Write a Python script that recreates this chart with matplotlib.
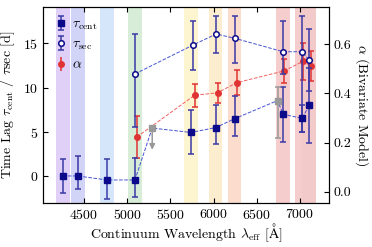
import matplotlib
matplotlib.use("Agg")
import matplotlib.pyplot as plt
import numpy as np

plt.rcParams['font.family'] = 'serif'
plt.rcParams['font.serif'] = ['cmr10']
plt.rcParams['mathtext.fontset'] = 'cm'
plt.rcParams['axes.formatter.use_mathtext'] = True
plt.rcParams['font.size'] = 10

# tau_cent (gray entries are flagged points, still on the dashed line)
lam_cent = [4253, 4427, 4766, 5090, 5290, 5738, 6024, 6244, 6742, 6807, 7027, 7108]
tau_cent = [0.05, 0.05, -0.4, -0.4, 5.45, 4.95, 5.5, 6.5, 8.55, 7.0, 6.55, 8.0]
cent_lo = [1.9, 1.5, 2.1, 1.95, 0.0, 2.4, 1.9, 2.0, 4.25, 3.1, 1.5, 4.2]
cent_hi = [1.9, 2.3, 2.4, 2.5, 0.0, 2.55, 2.6, 2.6, 1.55, 3.1, 1.5, 4.2]
gray_idx = [4, 8]
uplim_idx = 4
uplim_to = 3.0

lam_sec = [5090, 5762, 6031, 6251, 6807, 7027, 7108]
tau_sec = [11.55, 14.8, 16.05, 15.55, 14.05, 14.05, 13.1]
sec_lo = [6.0, 2.8, 2.1, 2.8, 2.5, 9.0, 3.5]
sec_hi = [4.5, 2.75, 2.05, 2.5, 3.5, 4.0, 3.5]

lam_alpha = [5110, 5781, 6047, 6267, 6818, 7038, 7124]
alpha = [0.222, 0.392, 0.402, 0.443, 0.491, 0.530, 0.511]
alpha_err = [0.085, 0.046, 0.041, 0.05, 0.05, 0.074, 0.06]

band_lam = [4253, 4427, 4766, 5090, 5738, 6024, 6244, 6807, 7027, 7108]
band_col = ['#e0d0f8', '#d2d4f7', '#d5e6fb', '#d8edd8', '#fdf4d0', '#fdedcf',
            '#fcdccc', '#f5cdcd', '#f5cdcd', '#f2caca']
band_half = 80

fig = plt.figure(figsize=(3.72, 2.47), dpi=100)
ax = fig.add_axes([0.1156, 0.178, 0.7684, 0.794])
ax2 = ax.twinx()
ax.set_zorder(ax2.get_zorder() + 1)
ax.patch.set_visible(False)

for lc, c in zip(band_lam, band_col):
    ax2.axvspan(lc - band_half, lc + band_half, color=c, lw=0, zorder=0)

navy = '#0a0a8a'
ebc = '#3a3aa6'
red = '#e03333'

lam_cent = np.array(lam_cent)
tau_cent = np.array(tau_cent)
cent_err = np.array([cent_lo, cent_hi])
good = np.array([i not in gray_idx for i in range(len(lam_cent))])

ax.plot(lam_cent, tau_cent, '--', color='#3040d0', lw=0.7, alpha=0.9, zorder=2)
ax.errorbar(lam_cent[good], tau_cent[good], yerr=cent_err[:, good], fmt='s',
            color=navy, ecolor=ebc, ms=4, capsize=2.5, elinewidth=1.1,
            capthick=1.1, zorder=4, label=r'$\tau_{\rm cent}$')
g = [i for i in gray_idx if i != uplim_idx]
ax.errorbar(lam_cent[g], tau_cent[g], yerr=cent_err[:, g], fmt='s',
            color='#999999', ms=4, capsize=2.5, elinewidth=1.1, capthick=1.1, zorder=4)
ax.annotate('', xy=(lam_cent[uplim_idx], uplim_to),
            xytext=(lam_cent[uplim_idx], tau_cent[uplim_idx]),
            arrowprops=dict(arrowstyle='-|>', color='#999999', lw=1.1,
                            mutation_scale=8, shrinkA=0, shrinkB=0), zorder=3)
ax.plot(lam_cent[uplim_idx], tau_cent[uplim_idx], 's', color='#999999', ms=4, zorder=4)

ax.plot(lam_sec, tau_sec, '--', color='#3040d0', lw=0.7, alpha=0.9, zorder=2)
ax.errorbar(lam_sec, tau_sec, yerr=[sec_lo, sec_hi], fmt='o', mfc='white',
            mec=navy, mew=1.1, color=navy, ecolor=ebc, ms=4, capsize=2.5,
            elinewidth=1.1, capthick=1.1, zorder=4, label=r'$\tau_{\rm sec}$')

ax2.plot(lam_alpha, alpha, '--', color='#f05050', lw=0.7, alpha=0.9, zorder=2)
ax2.errorbar(lam_alpha, alpha, yerr=alpha_err, fmt='o', color=red, ecolor=red,
             ms=4, capsize=2.5, elinewidth=1.1, capthick=1.1, zorder=4)
ax.errorbar([], [], yerr=[], fmt='o', color=red, ecolor=red, ms=4,
            capsize=2.5, elinewidth=1.1, capthick=1.1, label=r'$\alpha$')

ax.set_xlim(4025, 7336)
ax.set_ylim(-3.0, 19.1)
ax2.set_ylim(-0.046, 0.751)
ax.set_xticks([4500, 5000, 5500, 6000, 6500, 7000])
ax.set_yticks([0, 5, 10, 15])
ax2.set_yticks([0.0, 0.2, 0.4, 0.6])
ax2.set_yticklabels(['0.0', '0.2', '0.4', '0.6'])

ax.tick_params(direction='in', top=True, length=3.5, width=0.8)
ax.tick_params(axis='y', right=False)
ax2.tick_params(direction='in', length=3.5, width=0.8)

ax.set_xlabel(r'Continuum Wavelength $\lambda_{\rm eff}$ [$\rm\AA$]', labelpad=0)
ax.set_ylabel(r'Time Lag $\tau_{\rm cent}$ / $\tau{\rm sec}$ [d]', labelpad=4)
ax2.set_ylabel(r'$\alpha$ (Bivariate Model)', rotation=270, labelpad=14)

ax.legend(loc='upper left', frameon=False, handletextpad=0.3,
          labelspacing=0.45, borderaxespad=0.4, handlelength=1.0)

fig.savefig('out.png', dpi=100)
